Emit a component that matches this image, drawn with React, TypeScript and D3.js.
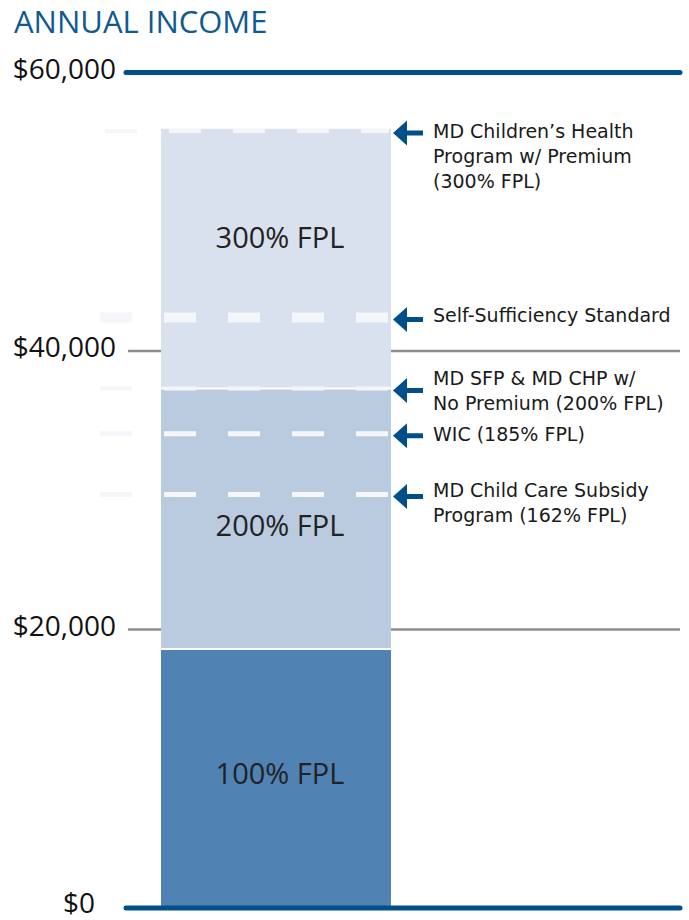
import React from "react";
import * as d3 from "d3";

const title = "ANNUAL INCOME";
const tickValues = [0, 20000, 40000, 60000];
const segmentLabels = ["100% FPL", "200% FPL", "300% FPL"];
const segmentTops = [18600, 37300, 55960];
const markerValues = [55800, 42400, 37300, 34050, 29700];
const markerLabels = [
  ["MD Children\u2019s Health", "Program w/ Premium", "(300% FPL)"],
  ["Self-Sufficiency Standard"],
  ["MD SFP & MD CHP w/", "No Premium (200% FPL)"],
  ["WIC (185% FPL)"],
  ["MD Child Care Subsidy", "Program (162% FPL)"],
];

const W = 689;
const H = 920;
const FONT = "'Open Sans', 'DejaVu Sans', sans-serif";
const LABEL_FONT = "'DejaVu Sans', sans-serif";
const segColors = ["#5083b3", "#bacbe0", "#d9e1ee"];
const segLabelDy = [5.5, 17.5, -11];
const markerStroke = [4, 10, 4, 5, 5];
const markerStart = [105, 100, 100, 100, 100];
const labelDy = [7.5, 4, -4, 7, 3];

export default function App() {
  const y = d3.scaleLinear().domain([0, 60000]).range([908, 72.5]);
  const barX0 = 161;
  const barX1 = 391;
  const lineX0 = 126;
  const lineX1 = 680;
  const segs = segmentTops.map((top, i) => ({
    label: segmentLabels[i],
    y0: y(i === 0 ? 0 : segmentTops[i - 1]),
    y1: y(top),
    color: segColors[i],
  }));

  return (
    <div style={{ position: "absolute", left: 0, top: 0 }}>
      <svg width={W} height={H} style={{ display: "block" }} fontFamily={FONT}>
        <rect width={W} height={H} fill="#ffffff" />
        <text x={14} y={33} fontSize={31} fill="#0f5a8f">
          {title}
        </text>

        {/* gray gridlines */}
        {tickValues
          .filter((v) => v !== 0 && v !== 60000)
          .map((v) => (
            <line key={"g" + v} x1={128} x2={lineX1} y1={y(v)} y2={y(v)} stroke="#8c8c8c" strokeWidth={2.5} />
          ))}

        {/* stacked bar */}
        {segs.map((s) => (
          <rect key={s.label} x={barX0} y={s.y1} width={barX1 - barX0} height={s.y0 - s.y1} fill={s.color} />
        ))}
        {segs.slice(0, 2).map((s, i) => (
          <line key={"sep" + i} x1={barX0} x2={barX1} y1={s.y1} y2={s.y1} stroke="#ffffff" strokeWidth={2} />
        ))}
        {segs.map((s, i) => (
          <text
            key={"t" + s.label}
            x={(barX0 + barX1) / 2 + 4}
            y={(s.y0 + s.y1) / 2 + segLabelDy[i]}
            textAnchor="middle"
            fontSize={29}
            fill="#222222"
          >
            {s.label}
          </text>
        ))}

        {/* dashed marker lines */}
        {markerValues.map((v, i) => (
          <line
            key={"m" + i}
            x1={markerStart[i]}
            x2={barX1 - 2}
            y1={y(v)}
            y2={y(v)}
            stroke="#f4f6f9"
            strokeWidth={markerStroke[i]}
            strokeDasharray="32 32"
          />
        ))}

        {/* thick axis lines */}
        {[0, 60000].map((v) => (
          <line key={"a" + v} x1={lineX0} x2={lineX1} y1={y(v)} y2={y(v)} stroke="#00518a" strokeWidth={5} strokeLinecap="round" />
        ))}

        {/* tick labels */}
        {tickValues.map((v) => (
          <text
            key={"l" + v}
            x={v === 0 ? 95 : 116}
            y={y(v) + (v === 0 ? 5 : 6)}
            textAnchor="end"
            fontSize={28}
            fill="#111111"
          >
            {d3.format("$,")(v)}
          </text>
        ))}

        {/* arrows + labels */}
        {markerValues.map((v, i) => {
          const ay = y(v) + 2;
          const tip = 393;
          return (
            <g key={"ar" + i}>
              <path
                d={`M${tip},${ay} L${tip + 14},${ay - 12.5} L${tip + 14},${ay - 2.5} L${tip + 30},${ay - 2.5} L${tip + 30},${ay + 2.5} L${tip + 14},${ay + 2.5} L${tip + 14},${ay + 12.5} Z`}
                fill="#004f8a"
              />
              <text x={433} y={y(v) + labelDy[i]} fontSize={19} fill="#1a1a1a" fontFamily={LABEL_FONT}>
                {markerLabels[i].map((ln, j) => (
                  <tspan key={j} x={433} dy={j === 0 ? 0 : 25}>
                    {ln}
                  </tspan>
                ))}
              </text>
            </g>
          );
        })}
      </svg>
    </div>
  );
}
